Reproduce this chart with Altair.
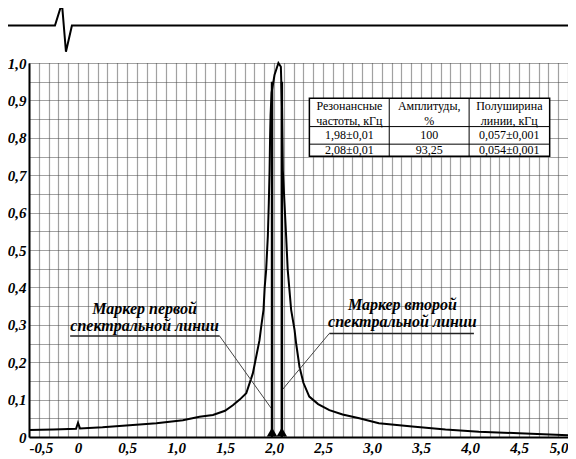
import altair as alt
import pandas as pd

# ---- spectrum curve ----
freq = [-0.5, -0.25, -0.02, 0.0, 0.02, 0.25, 0.56, 0.8, 1.07, 1.24, 1.377, 1.5, 1.58, 1.65,
        1.717, 1.784, 1.852, 1.872, 1.893, 1.905, 1.92, 1.93, 1.937, 1.947, 1.955, 1.96,
        1.965, 1.975, 2.005, 2.045, 2.07, 2.082, 2.09, 2.107, 2.124, 2.14, 2.175, 2.21,
        2.226, 2.26, 2.30, 2.36, 2.45, 2.565, 2.7, 2.87, 3.07, 3.41, 3.75, 4.09, 4.5, 5.0]
amp = [0.019, 0.020, 0.022, 0.038, 0.023, 0.026, 0.032, 0.037, 0.045, 0.054, 0.059, 0.070,
       0.085, 0.100, 0.117, 0.170, 0.259, 0.300, 0.340, 0.400, 0.447, 0.500, 0.536, 0.625,
       0.714, 0.800, 0.860, 0.920, 0.968, 1.000, 0.990, 0.880, 0.714, 0.625, 0.536, 0.447,
       0.340, 0.286, 0.250, 0.188, 0.145, 0.108, 0.088, 0.072, 0.060, 0.050, 0.037, 0.028,
       0.020, 0.014, 0.010, 0.005]

# ---- spectral line markers ----
marker_x = [1.98, 2.08]
marker_top = [0.95, 0.95]

# ---- annotations ----
ann_lines = ["Маркер первой", "спектральной линии", "Маркер второй", "спектральной линии"]
ann_x = [0.68, 0.68, 3.31, 3.31]
ann_y = [0.342, 0.297, 0.352, 0.307]
under_x = [-0.08, 2.565]
under_x2 = [1.445, 4.04]
under_y = [0.270, 0.277]
lead_x = [1.445, 2.565]
lead_y = [0.270, 0.277]
lead_x2 = [1.971, 2.09]
lead_y2 = [0.077, 0.128]

# ---- table ----
col_centers = [2.769, 3.584, 4.401]
col_edges = [2.361, 3.176, 3.991, 4.813]
row_edges = [0.906, 0.830, 0.783, 0.751]
row_text_y = [0.885, 0.846, 0.807, 0.767]
table_cells = [
    ["Резонансные", "Амплитуды,", "Полуширина"],
    ["частоты, кГц", "%", "линии, кГц"],
    ["1,98±0,01", "100", "0,057±0,001"],
    ["2,08±0,01", "93,25", "0,054±0,001"],
]

# ---- decorative header line ----
deco_x = [-0.795, -0.235, -0.164, -0.123, -0.062, 5.072]
deco_y = [1.1, 1.1, 1.16, 1.03, 1.1, 1.1]

FONT = "Liberation Serif"
xs = alt.Scale(domain=[-0.5, 5.0], nice=False, zero=False)
ys = alt.Scale(domain=[0, 1.0], nice=False, zero=False)

x_vals = [round(-0.5 + 0.1 * i, 2) for i in range(56)]
y_vals = [round(0.05 * i, 2) for i in range(21)]

num_fmt = ("(abs(datum.value) < 0.001 ? '0' : "
           "(datum.value < 0 ? '-' : '') + floor(abs(datum.value) + 0.0001) + ',' + "
           "round((abs(datum.value) - floor(abs(datum.value) + 0.0001)) * 10))")
x_label = "abs(datum.value*2 - round(datum.value*2)) < 0.001 ? " + num_fmt + " : ''"
y_label = "abs(datum.value*10 - round(datum.value*10)) < 0.001 ? " + num_fmt + " : ''"

axis_common = dict(grid=True, gridColor="#444", gridDash=[1, 1], gridWidth=1.2,
                   ticks=False, domainColor="black", domainWidth=2, title=None,
                   labelFont=FONT, labelFontSize=15, labelFontStyle="italic",
                   labelFontWeight="bold", labelColor="black", labelOverlap=False)
XA = alt.Axis(values=x_vals, labelExpr=x_label, labelPadding=3, **axis_common)
YA = alt.Axis(values=y_vals, labelExpr=y_label, labelPadding=3, **axis_common)


def X(f):
    return alt.X(f, scale=xs, axis=XA)


def Y(f):
    return alt.Y(f, scale=ys, axis=YA)


curve_df = pd.DataFrame({"f": freq, "a": amp})
curve = alt.Chart(curve_df).mark_line(color="black", strokeWidth=2).encode(
    x=X("f:Q"), y=Y("a:Q"))

mk_df = pd.DataFrame({"x": marker_x, "top": marker_top, "zero": [0, 0]})
markers = alt.Chart(mk_df).mark_rule(color="black", strokeWidth=2.5).encode(
    x=X("x:Q"), y=Y("zero:Q"), y2="top:Q")
tri = alt.Chart(mk_df).mark_point(shape="triangle-up", filled=True, color="black",
                                  size=110, opacity=1, yOffset=-5).encode(
    x=X("x:Q"), y=Y("zero:Q"))

ann_df = pd.DataFrame({"t": ann_lines, "x": ann_x, "y": ann_y})
ann_text = alt.Chart(ann_df).mark_text(font=FONT, fontSize=16, fontStyle="italic",
                                       fontWeight="bold", color="black").encode(
    x=X("x:Q"), y=Y("y:Q"), text="t:N")
under_df = pd.DataFrame({"x": under_x, "x2": under_x2, "y": under_y})
under = alt.Chart(under_df).mark_rule(color="#222", strokeWidth=1.5).encode(
    x=X("x:Q"), x2="x2:Q", y=Y("y:Q"))
lead_df = pd.DataFrame({"x": lead_x, "y": lead_y, "x2": lead_x2, "y2": lead_y2})
lead = alt.Chart(lead_df).mark_rule(color="#444", strokeWidth=1).encode(
    x=X("x:Q"), x2="x2:Q", y=Y("y:Q"), y2="y2:Q")

# table
box_df = pd.DataFrame({"x": [col_edges[0]], "x2": [col_edges[-1]],
                       "y": [row_edges[-1]], "y2": [row_edges[0]]})
box = alt.Chart(box_df).mark_rect(fill="white", stroke="black", strokeWidth=1.5).encode(
    x=X("x:Q"), x2="x2:Q", y=Y("y:Q"), y2="y2:Q")
vlines_df = pd.DataFrame({"x": col_edges[1:3], "y": [row_edges[-1]] * 2, "y2": [row_edges[0]] * 2})
vlines = alt.Chart(vlines_df).mark_rule(color="black", strokeWidth=1).encode(
    x=X("x:Q"), y=Y("y:Q"), y2="y2:Q")
hlines_df = pd.DataFrame({"y": row_edges[1:3], "x": [col_edges[0]] * 2, "x2": [col_edges[-1]] * 2})
hlines = alt.Chart(hlines_df).mark_rule(color="black", strokeWidth=1).encode(
    x=X("x:Q"), x2="x2:Q", y=Y("y:Q"))
cells = []
for r, row in enumerate(table_cells):
    for c, txt in enumerate(row):
        cells.append({"t": txt, "x": col_centers[c], "y": row_text_y[r]})
cell_df = pd.DataFrame(cells)
cell_text = alt.Chart(cell_df).mark_text(font=FONT, fontSize=12, color="black").encode(
    x=X("x:Q"), y=Y("y:Q"), text="t:N")

deco_df = pd.DataFrame({"x": deco_x, "y": deco_y, "o": list(range(len(deco_x)))})
deco = alt.Chart(deco_df).mark_line(color="black", strokeWidth=2, clip=False).encode(
    x=X("x:Q"), y=Y("y:Q"), order="o:Q")

chart = alt.layer(
    curve, lead, under, markers, tri, ann_text, box, vlines, hlines, cell_text, deco
).properties(
    width=539, height=374,
    autosize=alt.AutoSizeParams(type="none"),
    padding={"left": 21, "top": 55, "right": 0, "bottom": 22},
).configure_view(stroke=None)

chart.save("out.html", embed_options={"renderer": "svg", "actions": False})
